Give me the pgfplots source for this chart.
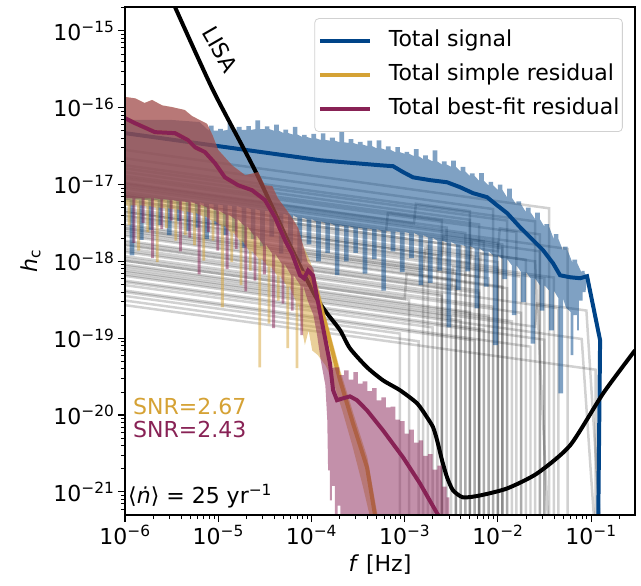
\documentclass[border=0pt]{standalone}
\usepackage{fontspec}
\setmainfont{DejaVu Sans}
\usepackage{pgfplots}
\pgfplotsset{compat=1.18}
\definecolor{sigblue}{HTML}{004488}
\definecolor{simpyel}{HTML}{D5A235}
\definecolor{fitred}{HTML}{882255}
\newcommand{\fs}{\fontsize{22bp}{26bp}\selectfont}

\begin{document}
\begin{tikzpicture}
\begin{axis}[
  scale only axis, width=510bp, height=508bp,
  xmode=log, ymode=log,
  xmin=1e-6, xmax=0.296, ymin=5e-22, ymax=2.04e-15,
  axis on top,
  axis line style={line width=1.1pt},
  tick align=outside, xtick pos=bottom, ytick pos=left,
  major tick length=7bp, minor tick length=4bp,
  major tick style={black, line width=1.1pt},
  minor tick style={black, line width=0.8pt},
  xtick={1e-6,1e-5,1e-4,1e-3,1e-2,1e-1},
  xticklabels={10\textsuperscript{−6},10\textsuperscript{−5},10\textsuperscript{−4},10\textsuperscript{−3},10\textsuperscript{−2},10\textsuperscript{−1}},
  minor xtick={2e-6,3e-6,4e-6,5e-6,6e-6,7e-6,8e-6,9e-6,2e-5,3e-5,4e-5,5e-5,6e-5,7e-5,8e-5,9e-5,2e-4,3e-4,4e-4,5e-4,6e-4,7e-4,8e-4,9e-4,2e-3,3e-3,4e-3,5e-3,6e-3,7e-3,8e-3,9e-3,2e-2,3e-2,4e-2,5e-2,6e-2,7e-2,8e-2,9e-2,0.2},
  ytick={1e-21,1e-20,1e-19,1e-18,1e-17,1e-16,1e-15},
  yticklabels={10\textsuperscript{−21},10\textsuperscript{−20},10\textsuperscript{−19},10\textsuperscript{−18},10\textsuperscript{−17},10\textsuperscript{−16},10\textsuperscript{−15}},
  minor ytick={6e-22,7e-22,8e-22,9e-22,2e-21,3e-21,4e-21,5e-21,6e-21,7e-21,8e-21,9e-21,2e-20,3e-20,4e-20,5e-20,6e-20,7e-20,8e-20,9e-20,2e-19,3e-19,4e-19,5e-19,6e-19,7e-19,8e-19,9e-19,2e-18,3e-18,4e-18,5e-18,6e-18,7e-18,8e-18,9e-18,2e-17,3e-17,4e-17,5e-17,6e-17,7e-17,8e-17,9e-17,2e-16,3e-16,4e-16,5e-16,6e-16,7e-16,8e-16,9e-16,2e-15},
  ticklabel style={font=\fs},
  label style={font=\fs},
  xlabel={\textit{f} [Hz]},
  ylabel={\textit{h}\textsubscript{c}},
  xlabel style={yshift=-3bp},
  ylabel shift=6bp,
  legend cell align=left,
  legend image code/.code={\draw[#1] (0bp,0bp) -- (50bp,0bp);},
  legend style={at={(rel axis cs:0.976,0.978)}, anchor=north east,
    draw=black!18, line width=0.8pt, rounded corners=4bp,
    fill=white, fill opacity=0.8, text opacity=1, font=\fs,
    inner xsep=3bp, inner ysep=12bp, row sep=13bp,
    nodes={inner sep=0bp, text height=16bp, text depth=5bp},
    /tikz/every odd column/.append style={column sep=17bp}},
  gl/.style={black, draw opacity=0.18, line width=2.5pt, forget plot},
]

% individual sources (grey)
\addplot[gl] coordinates {(1e-6,2.82e-17)(3.55e-2,4.90e-18)(3.55e-2,3e-22)};
\addplot[gl] coordinates {(1e-6,2.19e-17)(8.91e-3,4.79e-18)(8.91e-3,3e-22)};
\addplot[gl] coordinates {(1e-6,1.78e-17)(2.51e-2,3.31e-18)(2.51e-2,3e-22)};
\addplot[gl] coordinates {(1e-6,1.45e-17)(5.01e-3,3.47e-18)(5.01e-3,3e-22)};
\addplot[gl] coordinates {(1e-6,1.20e-17)(1.58e-2,2.40e-18)(1.58e-2,3e-22)};
\addplot[gl] coordinates {(1e-6,1.05e-17)(2.82e-3,2.75e-18)(2.82e-3,3e-22)};
\addplot[gl] coordinates {(1e-6,8.91e-18)(5.62e-2,1.45e-18)(5.62e-2,3e-22)};
\addplot[gl] coordinates {(1e-6,7.94e-18)(7.08e-3,1.82e-18)(7.08e-3,3e-22)};
\addplot[gl] coordinates {(1e-6,7.08e-18)(1.12e-2,1.48e-18)(1.12e-2,3e-22)};
\addplot[gl] coordinates {(1e-6,6.31e-18)(3.98e-3,1.58e-18)(3.98e-3,3e-22)};
\addplot[gl] coordinates {(1e-6,5.50e-18)(2.00e-2,1.05e-18)(2.00e-2,3e-22)};
\addplot[gl] coordinates {(1e-6,4.90e-18)(5.62e-3,1.15e-18)(5.62e-3,3e-22)};
\addplot[gl] coordinates {(1e-6,4.37e-18)(2.24e-3,1.20e-18)(2.24e-3,3e-22)};
\addplot[gl] coordinates {(1e-6,3.89e-18)(1e-2,8.32e-19)(1e-2,3e-22)};
\addplot[gl] coordinates {(1e-6,3.39e-18)(3.16e-2,6.03e-19)(3.16e-2,3e-22)};
\addplot[gl] coordinates {(1e-6,3.02e-18)(4.47e-3,7.41e-19)(4.47e-3,3e-22)};
\addplot[gl] coordinates {(1e-6,2.69e-18)(7.94e-3,6.03e-19)(7.94e-3,3e-22)};
\addplot[gl] coordinates {(1e-6,2.40e-18)(1.58e-3,7.08e-19)(1.58e-3,3e-22)};
\addplot[gl] coordinates {(1e-6,2.14e-18)(1.26e-2,4.47e-19)(1.26e-2,3e-22)};
\addplot[gl] coordinates {(1e-6,1.86e-18)(3.55e-3,4.79e-19)(3.55e-3,3e-22)};
\addplot[gl] coordinates {(1e-6,1.66e-18)(6.31e-3,3.89e-19)(6.31e-3,3e-22)};
\addplot[gl] coordinates {(1e-6,1.48e-18)(4.47e-2,2.45e-19)(4.47e-2,3e-22)};
\addplot[gl] coordinates {(1e-6,1.32e-18)(2.51e-3,3.55e-19)(2.51e-3,3e-22)};
\addplot[gl] coordinates {(1e-6,1.17e-18)(8.91e-3,2.57e-19)(8.91e-3,3e-22)};
\addplot[gl] coordinates {(1e-6,1.02e-18)(1.12e-3,3.16e-19)(1.12e-3,3e-22)};
\addplot[gl] coordinates {(1e-6,9.12e-19)(5.01e-3,2.19e-19)(5.01e-3,3e-22)};
\addplot[gl] coordinates {(1e-6,8.13e-19)(1.41e-2,1.66e-19)(1.41e-2,3e-22)};
\addplot[gl] coordinates {(1e-6,7.24e-19)(3.16e-3,1.91e-19)(3.16e-3,3e-22)};
\addplot[gl] coordinates {(1e-6,6.46e-19)(7.94e-2,9.77e-20)(1.10e-1,3e-22)};
\addplot[gl] coordinates {(1e-6,5.62e-19)(7.08e-3,1.29e-19)(7.08e-3,3e-22)};
\addplot[gl] coordinates {(1e-6,4.90e-19)(2.00e-3,1.38e-19)(2.00e-3,3e-22)};
\addplot[gl] coordinates {(1e-6,4.17e-19)(2.24e-2,7.76e-20)(2.24e-2,3e-22)};
\addplot[gl] coordinates {(1e-6,3.55e-19)(8.91e-4,1.15e-19)(8.91e-4,3e-22)};
\addplot[gl] coordinates {(1e-6,2.69e-19)(1.12e-1,3.89e-20)(1.12e-1,3e-22)};
\addplot[gl] coordinates {(1e-6,9.55e-18)(4.47e-3,2.34e-18)(4.47e-3,3e-22)};
\addplot[gl] coordinates {(1e-6,7.41e-18)(2.82e-2,1.35e-18)(2.82e-2,3e-22)};
\addplot[gl] coordinates {(1e-6,5.89e-18)(1.78e-3,1.70e-18)(1.78e-3,3e-22)};
\addplot[gl] coordinates {(1e-6,4.57e-18)(1e-2,9.77e-19)(1e-2,3e-22)};
\addplot[gl] coordinates {(1e-6,3.63e-18)(3.98e-2,6.17e-19)(3.98e-2,3e-22)};
\addplot[gl] coordinates {(1e-6,2.88e-18)(3.55e-3,7.41e-19)(3.55e-3,3e-22)};
\addplot[gl] coordinates {(1e-6,2.24e-18)(1.12e-2,4.68e-19)(1.12e-2,3e-22)};
\addplot[gl] coordinates {(1e-6,1.78e-18)(6.31e-3,4.17e-19)(6.31e-3,3e-22)};
\addplot[gl] coordinates {(1e-6,1.38e-18)(2.51e-3,3.72e-19)(2.51e-3,3e-22)};
\addplot[gl] coordinates {(1e-6,1.10e-18)(1.78e-2,2.14e-19)(1.78e-2,3e-22)};
\addplot[gl] coordinates {(1e-6,8.71e-19)(7.94e-3,1.95e-19)(7.94e-3,3e-22)};
\addplot[gl] coordinates {(1e-6,6.76e-19)(3.98e-3,1.70e-19)(3.98e-3,3e-22)};
\addplot[gl] coordinates {(1e-6,5.37e-19)(3.16e-2,9.55e-20)(3.16e-2,3e-22)};
\addplot[gl] coordinates {(1e-6,3.98e-19)(5.62e-3,9.33e-20)(5.62e-3,3e-22)};
\addplot[gl] coordinates {(1e-6,3.09e-19)(1.41e-3,9.12e-20)(1.41e-3,3e-22)};
\addplot[gl] coordinates {(1e-6,1.29e-17)(6.31e-3,3.02e-18)(6.31e-3,3e-22)};
\addplot[gl] coordinates {(1e-6,1.62e-17)(1.26e-2,3.39e-18)(1.26e-2,3e-22)};
\addplot[gl] coordinates {(1e-6,2.51e-18)(1.58e-3,7.41e-19)(1.66e-3,1.48e-18)(6.31e-3,1.17e-18)(6.31e-3,3e-22)};
\addplot[gl] coordinates {(1e-6,1.62e-18)(3.16e-3,4.27e-19)(3.31e-3,8.51e-19)(1.78e-2,6.31e-19)(1.78e-2,3e-22)};
\addplot[gl] coordinates {(1e-6,3.98e-18)(5.01e-3,9.55e-19)(5.25e-3,1.91e-18)(1.12e-2,1.66e-18)(1.12e-2,3e-22)};
\addplot[gl] coordinates {(1e-6,1.02e-18)(1e-3,3.24e-19)(1.05e-3,7.08e-19)(3.55e-3,5.75e-19)(3.55e-3,3e-22)};
\addplot[gl] coordinates {(1e-6,6.31e-18)(1e-2,1.35e-18)(1.05e-2,2.69e-18)(2.82e-2,2.24e-18)(2.82e-2,3e-22)};
\addplot[gl] coordinates {(1e-6,7.59e-19)(2.51e-2,1.41e-19)(2.63e-2,2.82e-19)(8.91e-2,2.29e-19)(1.26e-1,3.16e-22)};
\addplot[gl] coordinates {(1e-6,7.08e-18)(6.31e-4,2.42e-18)(6.61e-4,4.27e-18)(2.51e-3,3.41e-18)(2.51e-3,3e-22)};
\addplot[gl] coordinates {(1e-6,4.37e-18)(2.51e-3,1.18e-18)(2.63e-3,2.24e-18)(1e-2,1.78e-18)(1e-2,3e-22)};
\addplot[gl] coordinates {(1e-6,2.69e-18)(6.31e-3,6.27e-19)(6.61e-3,1.26e-18)(2.51e-2,1.00e-18)(3.5e-2,3e-22)};
\addplot[gl] coordinates {(1e-6,1.02e-17)(1.26e-3,3.11e-18)(1.32e-3,5.62e-18)(5.01e-3,4.50e-18)(5.01e-3,3e-22)};

% total signal, spread
\addplot[draw=none, fill=sigblue, fill opacity=0.5, forget plot] coordinates {
(1e-6,6.92e-17)(3.16e-6,6.92e-17)(6.31e-6,6.5e-17)
(7.94e-6,5.01e-17)(7.94e-6,5.82e-17)(8.91e-6,5.82e-17)(8.91e-6,5.01e-17)
(1.00e-5,5.01e-17)(1.00e-5,5.31e-17)(1.12e-5,5.31e-17)(1.12e-5,5.01e-17)
(1.26e-5,5.13e-17)(1.26e-5,6.31e-17)(1.41e-5,6.31e-17)(1.41e-5,5.13e-17)
(1.58e-5,5.13e-17)(1.58e-5,5.63e-17)(1.78e-5,5.63e-17)(1.78e-5,5.13e-17)
(2.00e-5,5.13e-17)(2.00e-5,5.76e-17)(2.24e-5,5.76e-17)(2.24e-5,5.13e-17)
(2.51e-5,5.25e-17)(2.51e-5,6.84e-17)(2.82e-5,6.84e-17)(2.82e-5,5.25e-17)
(3.16e-5,5.25e-17)(3.16e-5,5.69e-17)(3.55e-5,5.69e-17)(3.55e-5,5.25e-17)
(3.98e-5,5.01e-17)(3.98e-5,6.02e-17)(4.47e-5,6.02e-17)(4.47e-5,5.01e-17)
(5.01e-5,4.68e-17)(5.01e-5,5.19e-17)(5.62e-5,5.19e-17)(5.62e-5,4.68e-17)
(6.31e-5,4.47e-17)(6.31e-5,5.63e-17)(7.08e-5,5.63e-17)(7.08e-5,4.47e-17)
(7.94e-5,4.17e-17)(7.94e-5,4.42e-17)(8.91e-5,4.42e-17)(8.91e-5,4.17e-17)
(1.00e-4,3.98e-17)(1.00e-4,4.57e-17)(1.12e-4,4.57e-17)(1.12e-4,3.98e-17)
(1.26e-4,3.80e-17)(1.26e-4,4.62e-17)(1.41e-4,4.62e-17)(1.41e-4,3.80e-17)
(1.58e-4,3.72e-17)(1.58e-4,4.08e-17)(1.78e-4,4.08e-17)(1.78e-4,3.72e-17)
(2.00e-4,3.55e-17)(2.00e-4,4.79e-17)(2.24e-4,4.79e-17)(2.24e-4,3.55e-17)
(2.51e-4,3.47e-17)(2.51e-4,3.89e-17)(2.82e-4,3.89e-17)(2.82e-4,3.47e-17)
(3.16e-4,3.31e-17)(3.16e-4,3.59e-17)(3.55e-4,3.59e-17)(3.55e-4,3.31e-17)
(3.98e-4,3.16e-17)(3.98e-4,3.72e-17)(4.47e-4,3.72e-17)(4.47e-4,3.16e-17)
(5.01e-4,2.95e-17)(5.01e-4,3.76e-17)(5.62e-4,3.76e-17)(5.62e-4,2.95e-17)
(6.31e-4,2.82e-17)(6.31e-4,3.13e-17)(7.08e-4,3.13e-17)(7.08e-4,2.82e-17)
(7.94e-4,2.63e-17)(7.94e-4,3.06e-17)(8.91e-4,3.06e-17)(8.91e-4,2.63e-17)
(1.00e-3,2.51e-17)(1.00e-3,2.66e-17)(1.12e-3,2.66e-17)(1.12e-3,2.51e-17)
(1.26e-3,2.34e-17)(1.26e-3,2.88e-17)(1.41e-3,2.88e-17)(1.41e-3,2.34e-17)
(1.58e-3,2.14e-17)(1.58e-3,2.40e-17)(1.78e-3,2.40e-17)(1.78e-3,2.14e-17)
(2.00e-3,2.00e-17)(2.00e-3,2.79e-17)(2.24e-3,2.79e-17)(2.24e-3,2.00e-17)
(2.51e-3,1.82e-17)(2.51e-3,2.00e-17)(2.82e-3,2.00e-17)(2.82e-3,1.82e-17)
(3.16e-3,1.70e-17)(3.16e-3,2.04e-17)(3.55e-3,2.04e-17)(3.55e-3,1.70e-17)
(3.98e-3,1.48e-17)(3.98e-3,1.70e-17)(4.47e-3,1.70e-17)(4.47e-3,1.48e-17)
(5.01e-3,1.29e-17)(5.01e-3,1.40e-17)(5.62e-3,1.40e-17)(5.62e-3,1.29e-17)
(6.31e-3,1.12e-17)(6.31e-3,1.41e-17)(7.08e-3,1.41e-17)(7.08e-3,1.12e-17)
(7.94e-3,9.77e-18)(7.94e-3,1.08e-17)(8.91e-3,1.08e-17)(8.91e-3,9.77e-18)
(1.00e-2,8.51e-18)(1.00e-2,9.98e-18)(1.12e-2,9.98e-18)(1.12e-2,8.51e-18)
(1.26e-2,6.76e-18)(1.26e-2,8.82e-18)(1.41e-2,8.82e-18)(1.41e-2,6.76e-18)
(1.58e-2,5.50e-18)(1.58e-2,6.03e-18)(1.78e-2,6.03e-18)(1.78e-2,5.50e-18)
(2.00e-2,4.37e-18)(2.00e-2,5.01e-18)(2.24e-2,5.01e-18)(2.24e-2,4.37e-18)
(2.51e-2,3.55e-18)(2.51e-2,4.32e-18)(2.82e-2,4.32e-18)(2.82e-2,3.55e-18)
(3.16e-2,2.82e-18)(3.16e-2,3.05e-18)(3.55e-2,3.05e-18)(3.55e-2,2.82e-18)
(3.98e-2,1.95e-18)(3.98e-2,2.26e-18)(4.47e-2,2.26e-18)(4.47e-2,1.95e-18)
(5.01e-2,1.38e-18)(5.01e-2,1.55e-18)(5.62e-2,1.55e-18)(5.62e-2,1.38e-18)
(6.31e-2,9.55e-19)(6.31e-2,1.05e-18)(7.08e-2,1.05e-18)(7.08e-2,9.55e-19)
(7.94e-2,7.08e-19)(7.94e-2,7.50e-19)(8.51e-2,7.50e-19)(8.51e-2,7.08e-19)
(9.12e-2,6.31e-19)
(8.71e-2,3.98e-19)(8.13e-2,3.98e-19)(8.13e-2,3.09e-19)(7.41e-2,3.09e-19)(7.41e-2,1.26e-19)(7.08e-2,1.26e-19)
(7.08e-2,2.0e-19)(6.46e-2,2.0e-19)(6.46e-2,6.03e-20)(6.03e-2,6.03e-20)(6.03e-2,2.2e-19)(5.37e-2,2.5e-19)
(5.01e-2,3.31e-19)(5.01e-2,1.91e-20)(4.47e-2,1.91e-20)(4.47e-2,3.31e-19)
(3.98e-2,4.17e-19)(3.98e-2,1.26e-19)(3.55e-2,1.26e-19)(3.55e-2,4.17e-19)
(3.16e-2,4.90e-19)(3.16e-2,2.29e-19)(2.82e-2,2.29e-19)(2.82e-2,4.90e-19)
(2.51e-2,6.03e-19)(2.51e-2,8.51e-20)(2.24e-2,8.51e-20)(2.24e-2,6.03e-19)
(2.00e-2,7.24e-19)(2.00e-2,2.95e-19)(1.78e-2,2.95e-19)(1.78e-2,7.24e-19)
(1.58e-2,8.91e-19)(1.58e-2,2.00e-19)(1.41e-2,2.00e-19)(1.41e-2,8.91e-19)
(1.26e-2,1.07e-18)(1.26e-2,5.89e-19)(1.12e-2,5.89e-19)(1.12e-2,1.07e-18)
(1.00e-2,1.20e-18)(1.00e-2,8.13e-20)(8.91e-3,8.13e-20)(8.91e-3,1.20e-18)
(7.94e-3,1.35e-18)(7.94e-3,4.68e-19)(7.08e-3,4.68e-19)(7.08e-3,1.35e-18)
(6.31e-3,1.48e-18)(6.31e-3,2.45e-19)(5.62e-3,2.45e-19)(5.62e-3,1.48e-18)
(5.01e-3,1.58e-18)(5.01e-3,7.41e-19)(4.47e-3,7.41e-19)(4.47e-3,1.58e-18)
(3.98e-3,1.66e-18)(3.98e-3,4.27e-19)(3.55e-3,4.27e-19)(3.55e-3,1.66e-18)
(3.16e-3,1.78e-18)(3.16e-3,1.38e-19)(2.82e-3,1.38e-19)(2.82e-3,1.78e-18)
(2.51e-3,1.86e-18)(2.51e-3,7.59e-19)(2.24e-3,7.59e-19)(2.24e-3,1.86e-18)
(2.00e-3,2.04e-18)(2.00e-3,5.25e-19)(1.78e-3,5.25e-19)(1.78e-3,2.04e-18)
(1.58e-3,2.19e-18)(1.58e-3,4.90e-19)(1.41e-3,4.90e-19)(1.41e-3,2.19e-18)
(1.26e-3,2.34e-18)(1.26e-3,1.10e-18)(1.12e-3,1.10e-18)(1.12e-3,2.34e-18)
(1.00e-3,2.40e-18)(1.00e-3,7.24e-19)(8.91e-4,7.24e-19)(8.91e-4,2.40e-18)
(7.94e-4,2.45e-18)(7.94e-4,1.35e-18)(7.08e-4,1.35e-18)(7.08e-4,2.45e-18)
(6.31e-4,2.51e-18)(6.31e-4,4.17e-19)(5.62e-4,4.17e-19)(5.62e-4,2.51e-18)
(5.01e-4,2.63e-18)(5.01e-4,1.07e-18)(4.47e-4,1.07e-18)(4.47e-4,2.63e-18)
(3.98e-4,2.69e-18)(3.98e-4,6.92e-19)(3.55e-4,6.92e-19)(3.55e-4,2.69e-18)
(3.16e-4,2.75e-18)(3.16e-4,1.29e-18)(2.82e-4,1.29e-18)(2.82e-4,2.75e-18)
(2.51e-4,2.88e-18)(2.51e-4,1.00e-18)(2.24e-4,1.00e-18)(2.24e-4,2.88e-18)
(2.00e-4,2.95e-18)(2.00e-4,6.61e-19)(1.78e-4,6.61e-19)(1.78e-4,2.95e-18)
(1.58e-4,3.16e-18)(1.58e-4,1.29e-18)(1.41e-4,1.29e-18)(1.41e-4,3.16e-18)
(1.26e-4,3.31e-18)(1.26e-4,1.00e-18)(1.12e-4,1.00e-18)(1.12e-4,3.31e-18)
(1.00e-4,3.55e-18)(1.00e-4,1.66e-18)(8.91e-5,1.66e-18)(8.91e-5,3.55e-18)
(7.94e-5,3.72e-18)(7.94e-5,9.55e-19)(7.08e-5,9.55e-19)(7.08e-5,3.72e-18)
(6.31e-5,3.98e-18)(6.31e-5,1.62e-18)(5.62e-5,1.62e-18)(5.62e-5,3.98e-18)
(5.01e-5,4.17e-18)(5.01e-5,1.26e-18)(4.47e-5,1.26e-18)(4.47e-5,4.17e-18)
(3.98e-5,4.47e-18)(3.98e-5,2.09e-18)(3.55e-5,2.09e-18)(3.55e-5,4.47e-18)
(3.16e-5,4.57e-18)(3.16e-5,1.58e-18)(2.82e-5,1.58e-18)(2.82e-5,4.57e-18)
(2.51e-5,4.79e-18)(2.51e-5,1.95e-18)(2.24e-5,1.95e-18)(2.24e-5,4.79e-18)
(2.00e-5,5.01e-18)(2.00e-5,1.51e-18)(1.78e-5,1.51e-18)(1.78e-5,5.01e-18)
(1.58e-5,5.25e-18)(1.58e-5,2.45e-18)(1.41e-5,2.45e-18)(1.41e-5,5.25e-18)
(1.26e-5,5.37e-18)(1.26e-5,2.19e-18)(1.12e-5,2.19e-18)(1.12e-5,5.37e-18)
(1.00e-5,5.50e-18)(1.00e-5,3.02e-18)(8.91e-6,3.02e-18)(8.91e-6,5.50e-18)
(7.94e-6,5.62e-18)(7.94e-6,1.95e-18)(7.08e-6,1.95e-18)(7.08e-6,5.62e-18)
(6.31e-6,5.89e-18)(6.31e-6,2.75e-18)(5.62e-6,2.75e-18)(5.62e-6,5.89e-18)
(5.01e-6,6.03e-18)(5.01e-6,2.45e-18)(4.47e-6,2.45e-18)(4.47e-6,6.03e-18)
(3.98e-6,6.03e-18)(3.98e-6,3.31e-18)(3.55e-6,3.31e-18)(3.55e-6,6.03e-18)
(3.16e-6,6.31e-18)(3.16e-6,2.19e-18)(2.82e-6,2.19e-18)(2.82e-6,6.31e-18)
(2.51e-6,6.31e-18)(2.51e-6,2.95e-18)(2.24e-6,2.95e-18)(2.24e-6,6.31e-18)
(2.00e-6,6.31e-18)(2.00e-6,2.57e-18)(1.78e-6,2.57e-18)(1.78e-6,6.31e-18)
(1.58e-6,6.31e-18)(1.58e-6,1.91e-18)(1.41e-6,1.91e-18)(1.41e-6,6.31e-18)
(1.26e-6,6.31e-18)(1.26e-6,1.20e-18)(1.12e-6,1.20e-18)(1.12e-6,6.31e-18)
(1e-6,6.31e-18)
};
\addplot[sigblue, line width=4pt] coordinates {
(1e-6,4.66e-17)(1e-5,3.16e-17)(1.24e-4,2.07e-17)(5.45e-4,1.78e-17)(7.52e-4,1.73e-17)(9.62e-4,1.45e-17)
(1.23e-3,1.24e-17)(1.87e-3,1.14e-17)(2.85e-3,1.07e-17)(3.93e-3,9.23e-18)(5.42e-3,7.71e-18)(7.66e-3,6.84e-18)
(9.80e-3,5.37e-18)(1.26e-2,4.23e-18)(1.73e-2,2.78e-18)(2.39e-2,1.88e-18)(3.05e-2,1.40e-18)(3.91e-2,9.44e-19)
(4.65e-2,6.59e-19)(5.96e-2,6.21e-19)(7.62e-2,6.03e-19)(9.06e-2,6.40e-19)(1.25e-1,9.40e-20)(1.19e-1,3e-22)
};
\addlegendentry{Total signal}

% LISA sensitivity
\addplot[black, line width=4pt, smooth, tension=0.4, forget plot] coordinates {
(3.44e-6,2.04e-15)(8.79e-6,1.69e-16)(2.48e-5,1.53e-17)(5.89e-5,1.62e-18)(1.09e-4,3.62e-19)(1.47e-4,2.11e-19)
(2.03e-4,1.27e-19)(2.59e-4,7.38e-20)(3.95e-4,4.18e-20)(5.86e-4,2.83e-20)(8.93e-4,2.10e-20)(1.36e-3,1.42e-20)
(1.74e-3,9.33e-21)(2.02e-3,6.92e-21)(2.23e-3,4.69e-21)(2.52e-3,2.57e-21)(2.85e-3,1.55e-21)(3.30e-3,1.05e-21)
(4.24e-3,8.49e-22)(6.44e-3,8.99e-22)(1.26e-2,1.11e-21)(2.64e-2,1.74e-21)(5.96e-2,4.03e-21)(1.35e-1,1.92e-20)
(2.96e-1,6.95e-20)
};

% simple residual, spread
\addplot[draw=none, fill=simpyel, fill opacity=0.5, forget plot] coordinates {
(1.00e-6,1.38e-16)(1.29e-6,1.32e-16)(1.62e-6,1.15e-16)(1.95e-6,1.26e-16)(2.51e-6,1.07e-16)(3.16e-6,1.02e-16)
(4.37e-6,9.33e-17)(5.25e-6,7.76e-17)(6.31e-6,6.92e-17)(7.59e-6,6.17e-17)(8.71e-6,4.37e-17)(1.00e-5,2.82e-17)
(1.41e-5,1.78e-17)(1.95e-5,1.32e-17)(2.69e-5,1.45e-17)(3.16e-5,9.77e-18)(3.80e-5,9.55e-18)(4.37e-5,6.61e-18)
(5.25e-5,4.90e-18)(6.17e-5,3.72e-18)(7.24e-5,2.69e-18)(8.13e-5,1.62e-18)
(9.77e-5,9.77e-19)(1.17e-4,4.90e-19)(1.48e-4,1.62e-19)(2.04e-4,3.80e-20)(2.82e-4,1.05e-20)(3.98e-4,2.82e-21)
(5.13e-4,4.90e-22)(5.50e-4,3.63e-22)
(4.47e-4,3.63e-22)(3.55e-4,1.20e-21)(2.75e-4,3.98e-21)(2.14e-4,1.15e-20)(1.70e-4,2.82e-20)(1.41e-4,4.47e-20)
(1.17e-4,6.03e-20)(1.02e-4,6.92e-20)(9.33e-5,1.26e-19)(8.51e-5,8.13e-20)(7.76e-5,1.5e-19)
(7.24e-5,3.09e-19)(7.24e-5,4.07e-20)(6.76e-5,4.07e-20)(6.76e-5,3.09e-19)
(5.75e-5,4.90e-19)(5.75e-5,7.41e-20)(5.37e-5,7.41e-20)(5.37e-5,4.90e-19)
(4.57e-5,6.61e-19)(4.57e-5,3.09e-19)(4.27e-5,3.09e-19)(4.27e-5,6.61e-19)
(3.63e-5,8.71e-19)(3.63e-5,1.55e-19)(3.39e-5,1.55e-19)(3.39e-5,8.71e-19)
(2.88e-5,1.10e-18)(2.88e-5,4.17e-20)(2.69e-5,4.17e-20)(2.69e-5,1.10e-18)
(2.29e-5,1.38e-18)(2.29e-5,7.59e-19)(2.14e-5,7.59e-19)(2.14e-5,1.38e-18)
(1.82e-5,1.86e-18)(1.82e-5,4.90e-19)(1.70e-5,4.90e-19)(1.70e-5,1.86e-18)
(1.45e-5,2.40e-18)(1.45e-5,9.77e-19)(1.35e-5,9.77e-19)(1.35e-5,2.40e-18)
(1.15e-5,2.95e-18)(1.15e-5,2.51e-19)(1.07e-5,2.51e-19)(1.07e-5,2.95e-18)
(9.12e-6,3.39e-18)(9.12e-6,1.86e-18)(8.51e-6,1.86e-18)(8.51e-6,3.39e-18)
(7.24e-6,3.89e-18)(7.24e-6,1.02e-18)(6.76e-6,1.02e-18)(6.76e-6,3.89e-18)
(5.75e-6,4.27e-18)(5.75e-6,1.62e-18)(5.37e-6,1.62e-18)(5.37e-6,4.27e-18)
(4.57e-6,4.47e-18)(4.57e-6,2.19e-18)(4.27e-6,2.19e-18)(4.27e-6,4.47e-18)
(3.63e-6,4.79e-18)(3.63e-6,1.86e-18)(3.39e-6,1.86e-18)(3.39e-6,4.79e-18)
(2.88e-6,4.90e-18)(2.88e-6,2.69e-18)(2.69e-6,2.69e-18)(2.69e-6,4.90e-18)
(2.29e-6,5.01e-18)(2.29e-6,9.77e-19)(2.14e-6,9.77e-19)(2.14e-6,5.01e-18)
(1.82e-6,5.25e-18)(1.82e-6,2.40e-18)(1.70e-6,2.40e-18)(1.70e-6,5.25e-18)
(1.45e-6,5.37e-18)(1.45e-6,1.38e-18)(1.35e-6,1.38e-18)(1.35e-6,5.37e-18)
(1.15e-6,5.37e-18)(1.15e-6,2.95e-18)(1.07e-6,2.95e-18)(1.07e-6,5.37e-18)
(1e-6,5.37e-18)
};
\addplot[simpyel, line width=4pt] coordinates {
(1.00e-6,7.29e-17)(1.28e-6,6.28e-17)(2.10e-6,4.80e-17)(3.44e-6,4.66e-17)(4.74e-6,3.78e-17)(5.64e-6,3.06e-17)
(7.21e-6,2.64e-17)(9.25e-6,1.89e-17)(1.18e-5,1.24e-17)(1.63e-5,9.79e-18)(2.31e-5,8.43e-18)(3.18e-5,6.25e-18)
(4.06e-5,3.75e-18)(5.21e-5,1.88e-18)(6.19e-5,1.27e-18)(7.55e-5,7.21e-19)(9.66e-5,6.59e-19)(1.15e-4,3.84e-19)
(1.47e-4,1.27e-19)(2.03e-4,2.83e-20)(2.79e-4,7.80e-21)(3.95e-4,2.08e-21)(4.81e-4,4.95e-22)(5.31e-4,3.16e-22)
};
\addlegendentry{Total simple residual}

% best-fit residual, spread
\addplot[draw=none, fill=fitred, fill opacity=0.5, forget plot] coordinates {
(1.00e-6,1.38e-16)(1.29e-6,1.32e-16)(1.62e-6,1.15e-16)(1.95e-6,1.26e-16)(2.51e-6,1.07e-16)(3.16e-6,1.02e-16)
(4.37e-6,9.33e-17)(5.25e-6,7.76e-17)(6.31e-6,6.92e-17)(7.59e-6,6.17e-17)(8.71e-6,4.37e-17)(1.00e-5,2.82e-17)
(1.41e-5,1.78e-17)(1.95e-5,1.32e-17)(2.69e-5,1.45e-17)(3.16e-5,9.77e-18)(3.80e-5,9.55e-18)(4.37e-5,6.61e-18)
(5.25e-5,4.90e-18)(6.17e-5,3.72e-18)(7.24e-5,2.69e-18)(8.13e-5,1.62e-18)(9.12e-5,9.77e-19)(1.05e-4,8.13e-19)
(1.17e-4,4.17e-19)(1.29e-4,1.82e-19)(1.48e-4,6.92e-20)(1.66e-4,4.07e-20)
(1.78e-4,4.17e-20)(2.00e-4,4.17e-20)(2.00e-4,3.31e-20)(2.24e-4,3.31e-20)(2.24e-4,3.80e-20)(2.51e-4,3.80e-20)
(2.51e-4,2.88e-20)(2.82e-4,2.88e-20)(2.82e-4,3.63e-20)(3.16e-4,3.63e-20)(3.16e-4,2.57e-20)(3.55e-4,2.57e-20)
(3.55e-4,2.75e-20)(3.98e-4,2.75e-20)(3.98e-4,2.04e-20)(4.47e-4,2.04e-20)(4.47e-4,2.24e-20)(5.01e-4,2.24e-20)
(5.01e-4,1.55e-20)(5.62e-4,1.55e-20)(5.62e-4,1.70e-20)(6.31e-4,1.70e-20)(6.31e-4,1.26e-20)(7.08e-4,1.26e-20)
(7.08e-4,1.29e-20)(7.94e-4,1.29e-20)(7.94e-4,8.71e-21)(8.91e-4,8.71e-21)(8.91e-4,8.32e-21)(1.00e-3,8.32e-21)
(1.00e-3,5.75e-21)(1.12e-3,5.75e-21)(1.12e-3,6.46e-21)(1.26e-3,6.46e-21)(1.26e-3,4.37e-21)(1.41e-3,4.37e-21)
(1.41e-3,4.68e-21)(1.58e-3,4.68e-21)(1.58e-3,2.95e-21)(1.78e-3,2.95e-21)(1.78e-3,3.09e-21)(2.00e-3,3.09e-21)
(2.00e-3,1.95e-21)(2.24e-3,1.95e-21)(2.24e-3,2.19e-21)(2.51e-3,2.19e-21)(2.51e-3,1.17e-21)(2.82e-3,1.17e-21)
(2.82e-3,8.51e-22)(3.02e-3,8.51e-22)(3.02e-3,4.27e-22)
(2.29e-4,4.27e-22)(2.04e-4,4.27e-22)(2.04e-4,6.61e-22)(1.91e-4,6.61e-22)(1.91e-4,4.27e-22)(1.78e-4,4.27e-22)
(1.78e-4,1.20e-21)(1.66e-4,1.20e-21)(1.66e-4,7.76e-22)(1.58e-4,7.76e-22)(1.58e-4,1.91e-21)(1.51e-4,1.91e-21)
(1.48e-4,8.51e-21)(1.41e-4,2.45e-20)(1.26e-4,5.13e-20)(1.15e-4,1.10e-19)(1.05e-4,2.00e-19)(9.12e-5,3.09e-19)
(8.13e-5,4.90e-19)(8.13e-5,1.10e-19)(7.59e-5,1.10e-19)(7.59e-5,4.90e-19)
(6.46e-5,6.61e-19)(6.46e-5,2.29e-19)(6.03e-5,2.29e-19)(6.03e-5,6.61e-19)
(5.13e-5,9.33e-19)(5.13e-5,2.82e-19)(4.79e-5,2.82e-19)(4.79e-5,9.33e-19)
(4.07e-5,1.26e-18)(4.07e-5,1.35e-19)(3.80e-5,1.35e-19)(3.80e-5,1.26e-18)
(3.24e-5,1.66e-18)(3.24e-5,6.76e-19)(3.02e-5,6.76e-19)(3.02e-5,1.66e-18)
(2.57e-5,2.19e-18)(2.57e-5,5.62e-19)(2.40e-5,5.62e-19)(2.40e-5,2.19e-18)
(2.04e-5,2.88e-18)(2.04e-5,4.07e-19)(1.91e-5,4.07e-19)(1.91e-5,2.88e-18)
(1.62e-5,3.55e-18)(1.62e-5,1.45e-18)(1.51e-5,1.45e-18)(1.51e-5,3.55e-18)
(1.29e-5,4.07e-18)(1.29e-5,7.94e-19)(1.20e-5,7.94e-19)(1.20e-5,4.07e-18)
(1.02e-5,4.57e-18)(1.02e-5,1.38e-18)(9.55e-6,1.38e-18)(9.55e-6,4.57e-18)
(8.13e-6,5.01e-18)(8.13e-6,2.40e-18)(7.59e-6,2.40e-18)(7.59e-6,5.01e-18)
(6.46e-6,5.50e-18)(6.46e-6,6.76e-19)(6.03e-6,6.76e-19)(6.03e-6,5.50e-18)
(5.13e-6,5.89e-18)(5.13e-6,2.04e-18)(4.79e-6,2.04e-18)(4.79e-6,5.89e-18)
(4.07e-6,6.03e-18)(4.07e-6,1.35e-18)(3.80e-6,1.35e-18)(3.80e-6,6.03e-18)
(3.24e-6,6.31e-18)(3.24e-6,3.39e-18)(3.02e-6,3.39e-18)(3.02e-6,6.31e-18)
(2.57e-6,6.46e-18)(2.57e-6,2.63e-18)(2.40e-6,2.63e-18)(2.40e-6,6.46e-18)
(2.04e-6,6.61e-18)(2.04e-6,1.10e-18)(1.91e-6,1.10e-18)(1.91e-6,6.61e-18)
(1.62e-6,6.61e-18)(1.62e-6,3.16e-18)(1.51e-6,3.16e-18)(1.51e-6,6.61e-18)
(1.29e-6,6.61e-18)(1.29e-6,1.74e-18)(1.20e-6,1.74e-18)(1.20e-6,6.61e-18)
(1e-6,6.61e-18)
};
\addplot[fitred, line width=4pt] coordinates {
(1.00e-6,7.29e-17)(1.28e-6,6.28e-17)(2.10e-6,4.80e-17)(3.44e-6,4.66e-17)(4.74e-6,3.78e-17)(5.64e-6,3.06e-17)
(7.21e-6,2.64e-17)(9.25e-6,1.89e-17)(1.18e-5,1.24e-17)(1.63e-5,9.79e-18)(2.31e-5,8.43e-18)(3.18e-5,6.25e-18)
(4.06e-5,3.75e-18)(5.21e-5,1.88e-18)(6.19e-5,1.27e-18)(7.55e-5,6.59e-19)(8.34e-5,6.0e-19)(9.21e-5,7.6e-19)
(1.04e-4,6.5e-19)(1.15e-4,3.40e-19)(1.33e-4,1.39e-19)(1.58e-4,4.71e-20)(1.71e-4,2.10e-20)(1.88e-4,1.56e-20)
(2.18e-4,1.65e-20)(2.59e-4,1.75e-20)(3.08e-4,1.56e-20)(3.95e-4,1.15e-20)(5.86e-4,6.32e-21)(9.62e-4,2.81e-21)
(1.46e-3,1.29e-21)(2.23e-3,5.26e-22)(2.71e-3,3.66e-22)
};
\addlegendentry{Total best-fit residual}

\node[rotate=-60, font=\fs, inner sep=0pt] at (axis cs:1.05e-5,5.7e-16) {LISA};
\node[anchor=base west, inner sep=0pt, font=\fs, text=simpyel] at (rel axis cs:0.0157,0.197) {SNR=2.67};
\node[anchor=base west, inner sep=0pt, font=\fs, text=fitred] at (rel axis cs:0.0157,0.1535) {SNR=2.43};
\node[anchor=base west, inner sep=0pt, font=\fs] at (rel axis cs:0.006,0.0236) {⟨\textit{ṅ}⟩ = 25 yr\textsuperscript{−1}};
\end{axis}
\path ([shift={(-125bp,-71bp)}]current axis.south west) rectangle ([shift={(6bp,7bp)}]current axis.north east);
\end{tikzpicture}
\end{document}
